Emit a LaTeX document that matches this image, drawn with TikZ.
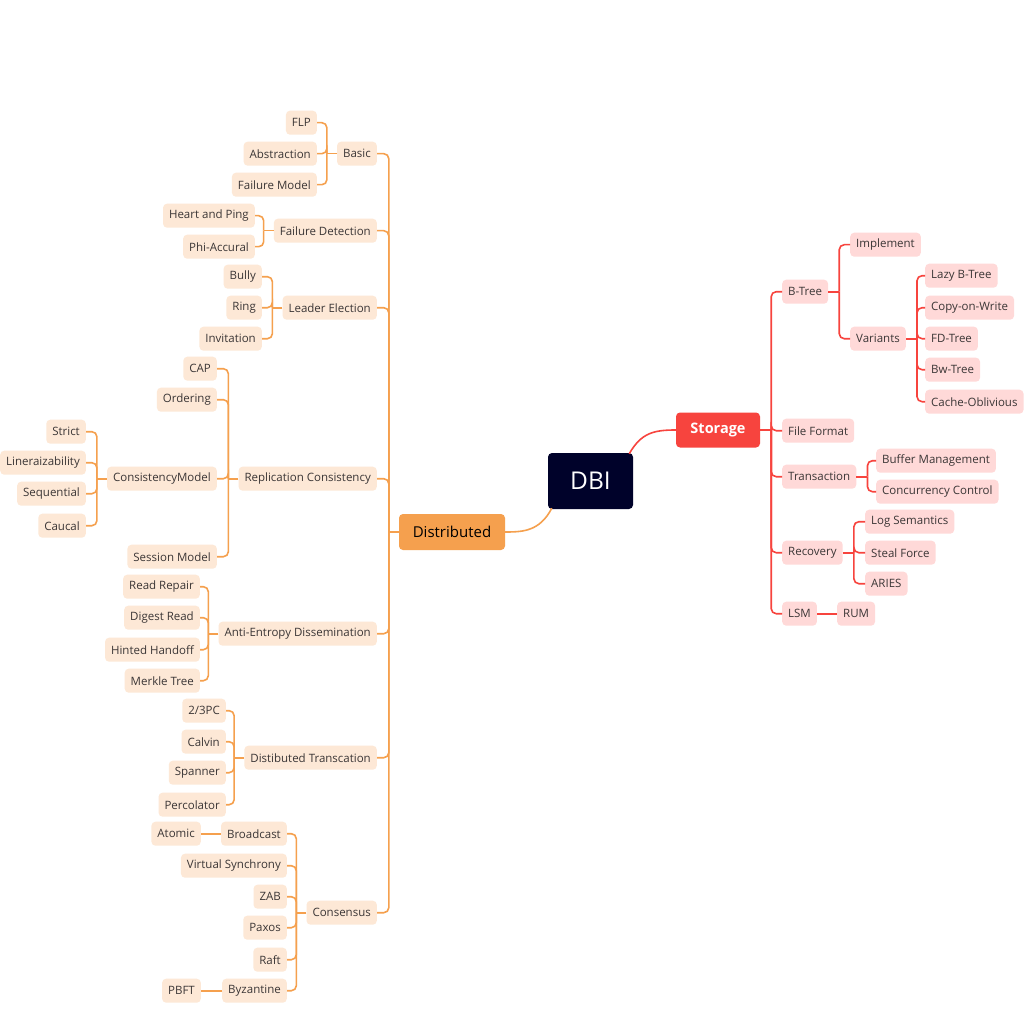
\documentclass[tikz,border=0pt]{standalone}
\usepackage{fontspec}
\setmainfont{Open Sans}
\usetikzlibrary{calc}
\definecolor{dorange}{HTML}{F5A04E}
\definecolor{dlight}{HTML}{FDE8D6}
\definecolor{sred}{HTML}{F7443E}
\definecolor{slight}{HTML}{FFD9D8}
\definecolor{navy}{HTML}{00022A}
\definecolor{txt}{HTML}{3B3636}
\tikzset{
  dnode/.style={fill=dlight, rounded corners=4pt, text=txt, font=\fontsize{11.5}{13}\selectfont, inner xsep=6pt, inner ysep=0pt, minimum height=24pt, yshift=-0.7pt},
  snode/.style={dnode, fill=slight},
  dline/.style={draw=dorange, line width=1.6pt, rounded corners=5pt},
  sline/.style={draw=sred, line width=1.6pt, rounded corners=5pt},
}
\newcommand\mmLeftGroup[3]{%
  \coordinate (#2J) at ($(#2.west)+(-10,0)$);
  \draw[#1] (#2.west) -- (#2J);
  \foreach \c in {#3} {\draw[#1] (\c.east) -| (#2J);}
}
\newcommand\mmRightGroup[3]{%
  \coordinate (#2J) at ($(#2.east)+(11,0)$);
  \draw[#1] (#2.east) -- (#2J);
  \foreach \c in {#3} {\draw[#1] (\c.west) -| (#2J);}
}
\begin{document}
\begin{tikzpicture}[x=1pt,y=-1pt]
\fill[white] (0,0) rectangle (1035,1032);
\useasboundingbox (0,0) rectangle (1035,1032);
% centre
\node[fill=navy, rounded corners=4pt, text=white, font=\fontsize{24.5}{26}\selectfont, minimum width=85pt, minimum height=56pt] (dbi) at (590.5,481) {DBI};
\node[fill=sred, rounded corners=4pt, text=white, font=\fontsize{14.5}{16}\selectfont\bfseries, minimum width=84pt, minimum height=35pt] (storage) at (718,430) {Storage};
\node[fill=dorange, rounded corners=4pt, text=black, font=\fontsize{15}{17}\selectfont, minimum width=106pt, minimum height=36pt] (dist) at (452,532) {Distributed};
% left level 1
\foreach \n/\y/\t in {basic/153/Basic, fdet/230/Failure Detection, lead/307/Leader Election, repl/478/Replication Consistency, anti/633/Anti-Entropy Dissemination, trans/757/Distibuted Transcation, cons/912/Consensus}
  \node[dnode, anchor=east] (\n) at (377,\y) {\t};
\foreach \n/\y/\t in {flp/122/FLP, abst/153/Abstraction, fmod/184/Failure Model}
  \node[dnode, anchor=east] (\n) at (317,\y) {\t};
\foreach \n/\y/\t in {heart/215/Heart and Ping, phi/246/Phi-Accural}
  \node[dnode, anchor=east] (\n) at (255,\y) {\t};
\foreach \n/\y/\t in {bully/276/Bully, ring/307/Ring, invit/338/Invitation}
  \node[dnode, anchor=east] (\n) at (262,\y) {\t};
\foreach \n/\y/\t in {cap/368/CAP, order/399/Ordering, cmod/478/ConsistencyModel, sess/556/Session Model}
  \node[dnode, anchor=east] (\n) at (217,\y) {\t};
\foreach \n/\y/\t in {strict/431/Strict, linear/462/Lineraizability, seq/493/Sequential, caucal/525/Caucal}
  \node[dnode, anchor=east] (\n) at (86,\y) {\t};
\foreach \n/\y/\t in {rrep/586/Read Repair, dig/617/Digest Read, hint/649/Hinted Handoff, merk/680/Merkle Tree}
  \node[dnode, anchor=east] (\n) at (200,\y) {\t};
\foreach \n/\y/\t in {pc/710/2\slash 3PC, calvin/741/Calvin, spanner/772/Spanner, perc/804/Percolator}
  \node[dnode, anchor=east] (\n) at (226,\y) {\t};
\foreach \n/\y/\t in {bcast/833/Broadcast, vsync/865/Virtual Synchrony, zab/896/ZAB, paxos/927/Paxos, raft/959/Raft, byz/990/Byzantine}
  \node[dnode, anchor=east] (\n) at (287,\y) {\t};
\node[dnode, anchor=east] (atomic) at (201,833) {Atomic};
\node[dnode, anchor=east] (pbft) at (201,990) {PBFT};
% right
\foreach \n/\y/\t in {btree/291/B-Tree, ffmt/430/File Format, txn/476/Transaction, recov/552/Recovery, lsm/613/LSM}
  \node[snode, anchor=west] (\n) at (782,\y) {\t};
\foreach \n/\y/\t in {impl/244/Implement, var/338/Variants}
  \node[snode, anchor=west] (\n) at (850,\y) {\t};
\foreach \n/\y/\t in {lazy/275/Lazy B-Tree, cow/307/Copy-on-Write, fdt/338/FD-Tree, bwt/369/Bw-Tree, cache/401/Cache-Oblivious}
  \node[snode, anchor=west] (\n) at (925,\y) {\t};
\foreach \n/\y/\t in {buf/460/Buffer Management, conc/491/Concurrency Control}
  \node[snode, anchor=west] (\n) at (876,\y) {\t};
\foreach \n/\y/\t in {logs/521/Log Semantics, steal/552/Steal Force, aries/583/ARIES}
  \node[snode, anchor=west] (\n) at (865,\y) {\t};
\node[snode, anchor=west] (rum) at (837,613) {RUM};
% connectors
\draw[sline] ($(dbi.north east)+(-4,1)$) .. controls ($(dbi.north east)+(8,-20)$) and ($(storage.west)+(-22,0)$) .. (storage.west);
\draw[dline] ($(dbi.south west)+(4,-1)$) .. controls ($(dbi.south west)+(-8,22)$) and ($(dist.east)+(18,0)$) .. (dist.east);
\mmLeftGroup{dline}{dist}{basic,fdet,lead,repl,anti,trans,cons}
\mmLeftGroup{dline}{basic}{flp,abst,fmod}
\mmLeftGroup{dline}{fdet}{heart,phi}
\mmLeftGroup{dline}{lead}{bully,ring,invit}
\mmLeftGroup{dline}{repl}{cap,order,cmod,sess}
\mmLeftGroup{dline}{cmod}{strict,linear,seq,caucal}
\mmLeftGroup{dline}{anti}{rrep,dig,hint,merk}
\mmLeftGroup{dline}{trans}{pc,calvin,spanner,perc}
\mmLeftGroup{dline}{cons}{bcast,vsync,zab,paxos,raft,byz}
\draw[dline] (bcast.west) -- (atomic.east);
\draw[dline] (byz.west) -- (pbft.east);
\mmRightGroup{sline}{storage}{btree,ffmt,txn,recov,lsm}
\mmRightGroup{sline}{btree}{impl,var}
\mmRightGroup{sline}{var}{lazy,cow,fdt,bwt,cache}
\mmRightGroup{sline}{txn}{buf,conc}
\mmRightGroup{sline}{recov}{logs,steal,aries}
\draw[sline] (lsm.east) -- (rum.west);
\end{tikzpicture}
\end{document}
